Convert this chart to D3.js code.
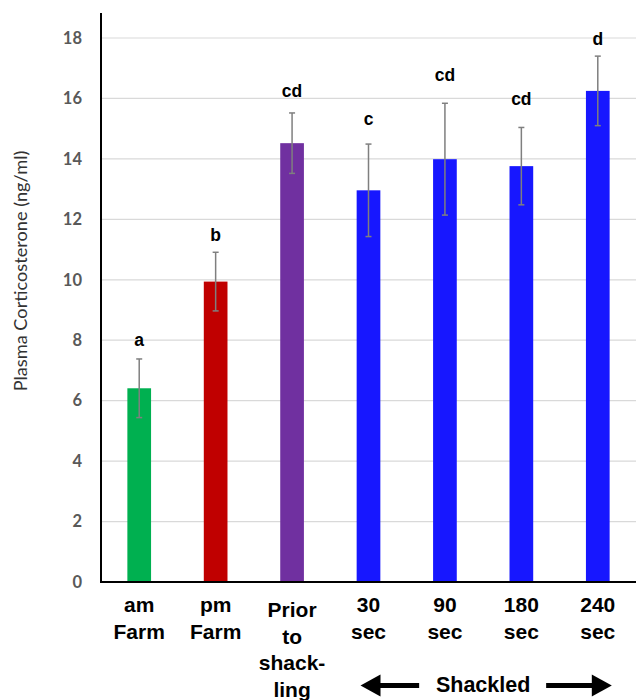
<!DOCTYPE html>
<html><head><meta charset="utf-8">
<script src="https://cdn.jsdelivr.net/npm/d3@7"></script>
<style>body{margin:0;background:#fff}svg{display:block}</style>
</head><body>
<svg id="c" width="636" height="700"></svg>
<script>
const categories = [["am","Farm"],["pm","Farm"],["Prior","to","shack-","ling"],["30","sec"],["90","sec"],["180","sec"],["240","sec"]];
const values = [6.41, 9.94, 14.52, 12.96, 13.99, 13.76, 16.25];
const errors = [0.97, 0.97, 1.0, 1.53, 1.85, 1.28, 1.15];
const letters = ["a","b","cd","c","cd","cd","d"];
const letterAt = [8.01, 11.48, 16.26, 15.32, 16.78, 15.99, 17.97];
const colors = ["#00B050","#C00000","#7030A0","#1717FF","#1717FF","#1717FF","#1717FF"];
const yTicks = [0,2,4,6,8,10,12,14,16,18];
const yTitle = "Plasma Corticosterone (ng/ml)";
const groupLabel = "Shackled";

(function(){
const svg = d3.select("#c");
const L = 101, R = 636, B = 582, T = 38;
const x = d3.scaleBand().domain(d3.range(values.length)).range([L, R]).paddingInner(0.69).paddingOuter(0.345);
const y = d3.scaleLinear().domain([0, 18]).range([B, T]);

// gridlines
svg.append("g").selectAll("line").data(yTicks.filter(d=>d>0)).join("line")
  .attr("x1", L).attr("x2", R).attr("y1", d=>y(d)).attr("y2", d=>y(d))
  .attr("stroke", "#d9d9d9").attr("stroke-width", 1.2);

// y axis tick labels
const yAxis = d3.axisLeft(y).tickValues(yTicks).tickSize(0).tickPadding(19);
const ga = svg.append("g").attr("transform", `translate(${L},0)`).call(yAxis);
ga.select(".domain").remove();
ga.selectAll("text").attr("font-family","Lato, 'Open Sans', sans-serif").attr("font-weight","bold")
  .attr("font-size","16.5px").attr("fill","#595959");

// bars
svg.append("g").selectAll("rect").data(values).join("rect")
  .attr("x", (d,i)=>x(i)).attr("width", x.bandwidth())
  .attr("y", d=>y(d)).attr("height", d=>B - y(d))
  .attr("fill", (d,i)=>colors[i]);

// error bars
const eb = svg.append("g").attr("stroke","#7f7f7f").attr("stroke-width",1.5);
values.forEach((v,i)=>{
  const cx = x(i) + x.bandwidth()/2;
  eb.append("line").attr("x1",cx).attr("x2",cx).attr("y1",y(v+errors[i])).attr("y2",y(v-errors[i]));
  [v+errors[i], v-errors[i]].forEach(e=>{
    eb.append("line").attr("x1",cx-3).attr("x2",cx+3).attr("y1",y(e)).attr("y2",y(e));
  });
});

// letters
svg.append("g").selectAll("text").data(letters).join("text")
  .attr("x",(d,i)=>x(i)+x.bandwidth()/2).attr("y",(d,i)=>y(letterAt[i]))
  .attr("dy","0.35em").attr("text-anchor","middle")
  .attr("font-family","'Liberation Sans', Arial, sans-serif").attr("font-weight","bold")
  .attr("font-size","17.5px").attr("fill","#000").text(d=>d);

// axes lines
svg.append("line").attr("x1",L).attr("x2",L).attr("y1",13).attr("y2",B+1)
  .attr("stroke","#000").attr("stroke-width",2);
svg.append("line").attr("x1",L-1).attr("x2",R).attr("y1",B).attr("y2",B)
  .attr("stroke","#000").attr("stroke-width",2);

// category labels
const cl = svg.append("g").attr("font-family","'Liberation Sans', Arial, sans-serif")
  .attr("font-weight","bold").attr("font-size","21px").attr("fill","#000").attr("text-anchor","middle");
categories.forEach((lines,i)=>{
  const t = cl.append("text").attr("x", x(i)+x.bandwidth()/2).attr("y", lines.length>2 ? 617 : 612);
  lines.forEach((s,j)=>t.append("tspan").attr("x", x(i)+x.bandwidth()/2).attr("dy", j===0?0:26.5).text(s));
});

// y title
svg.append("text").attr("transform","translate(27,271) rotate(-90)").attr("text-anchor","middle")
  .attr("font-family","Lato, 'Open Sans', sans-serif").attr("font-size","18.2px").attr("fill","#333")
  .text(yTitle);

// Shackled with arrows
const cxS = (x(3) + x(6) + x.bandwidth())/2;
svg.append("text").attr("x", cxS).attr("y", 692).attr("text-anchor","middle")
  .attr("font-family","'Liberation Sans', Arial, sans-serif").attr("font-weight","bold")
  .attr("font-size","21.5px").attr("fill","#000").text(groupLabel);
const ay = 685.5;
const lx0 = x(3) + x.bandwidth()/2 - 8, lx1 = cxS - 64;
const rx0 = cxS + 63, rx1 = x(6) + x.bandwidth()/2 + 14;
const ag = svg.append("g").attr("fill","#000");
ag.append("rect").attr("x", lx0+18).attr("y", ay-2.5).attr("width", lx1-lx0-18).attr("height", 5);
ag.append("path").attr("d", `M${lx0},${ay} L${lx0+20},${ay-11} L${lx0+20},${ay+11} Z`);
ag.append("rect").attr("x", rx0).attr("y", ay-2.5).attr("width", rx1-rx0-18).attr("height", 5);
ag.append("path").attr("d", `M${rx1},${ay} L${rx1-20},${ay-11} L${rx1-20},${ay+11} Z`);
})();
</script>
</body></html>
